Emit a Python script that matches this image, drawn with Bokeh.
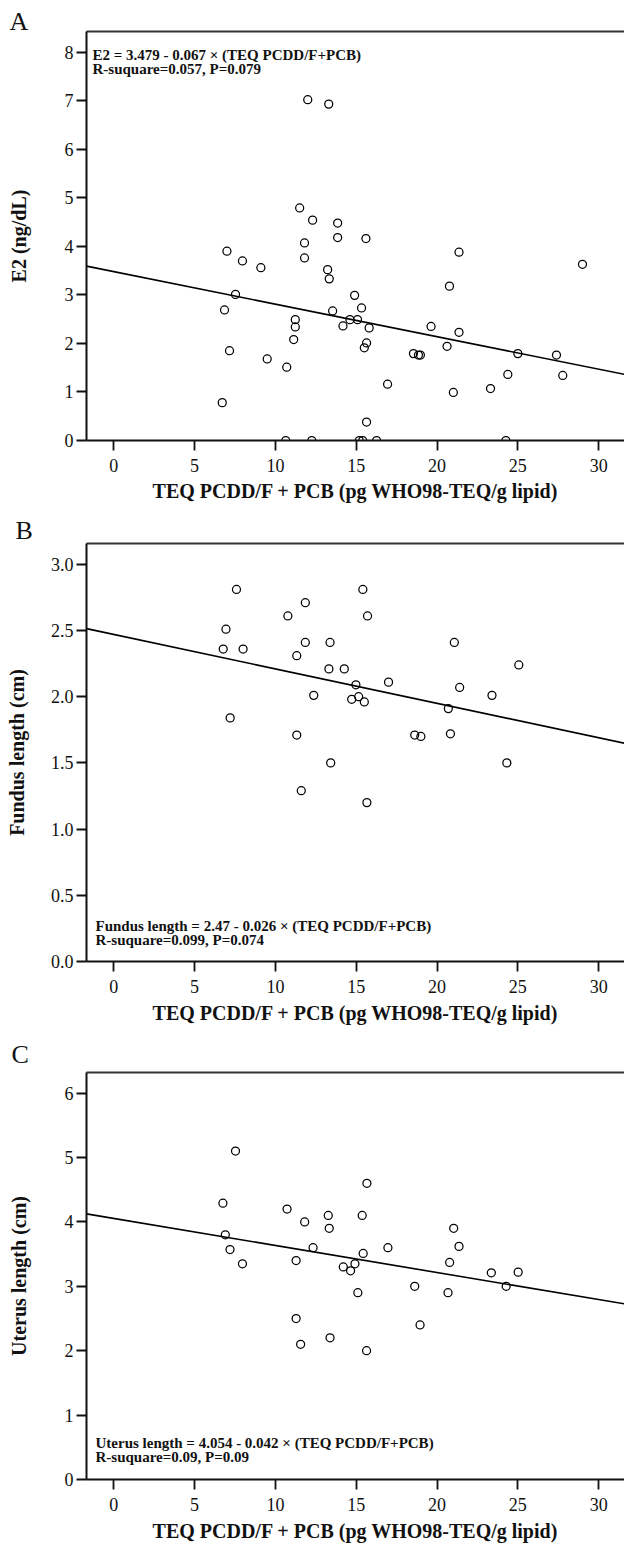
from bokeh.plotting import figure
from bokeh.models import Range1d, FixedTicker, LinearAxis, Label, PrintfTickFormatter
from bokeh.layouts import column
from bokeh.embed import file_html
from bokeh.resources import INLINE

FONT = "Liberation Serif"
X_TICKS = [0, 5, 10, 15, 20, 25, 30]
X_LABEL = "TEQ PCDD/F + PCB (pg WHO98-TEQ/g lipid)"

# Panel A: E2
a_x = [6.71, 6.85, 7.0, 7.16, 7.53, 7.96, 9.1, 9.49, 10.64, 10.7, 11.13, 11.23, 11.23, 11.5, 11.8,
       11.8, 12.0, 12.25, 12.3, 13.23, 13.3, 13.33, 13.54, 13.85, 13.85, 14.18, 14.61, 14.9, 15.08,
       15.19, 15.33, 15.4, 15.5, 15.6, 15.64, 15.64, 15.8, 16.26, 16.94, 18.54, 18.85, 18.97, 19.63,
       20.62, 20.77, 21.01, 21.36, 21.36, 23.31, 24.26, 24.38, 25.0, 27.39, 27.78, 29.0]
a_y = [0.78, 2.69, 3.90, 1.85, 3.01, 3.70, 3.56, 1.68, 0, 1.51, 2.08, 2.49, 2.34, 4.79, 4.07,
       3.76, 7.02, 0, 4.54, 3.52, 6.93, 3.33, 2.67, 4.48, 4.18, 2.36, 2.49, 2.99, 2.49,
       0, 2.73, 0, 1.91, 4.16, 2.01, 0.38, 2.32, 0, 1.16, 1.79, 1.76, 1.76, 2.35,
       1.94, 3.18, 0.99, 3.88, 2.23, 1.07, 0, 1.36, 1.79, 1.76, 1.34, 3.63]
a_ticks = [0, 1, 2, 3, 4, 5, 6, 7, 8]
a_fit = (3.479, -0.067)
a_eq = ["E2 = 3.479 - 0.067 × (TEQ PCDD/F+PCB)", "R-suquare=0.057, P=0.079"]

# Panel B: Fundus length
b_x = [6.77, 6.94, 7.2, 7.59, 8.0, 10.77, 11.32, 11.32, 11.6, 11.85, 11.85, 12.37, 13.31, 13.38,
       13.42, 14.26, 14.72, 14.98, 15.15, 15.41, 15.5, 15.66, 15.7, 17.0, 18.62, 19.0, 20.7, 20.83,
       21.07, 21.4, 23.4, 24.32, 25.06]
b_y = [2.36, 2.51, 1.84, 2.81, 2.36, 2.61, 2.31, 1.71, 1.29, 2.71, 2.41, 2.01, 2.21, 2.41,
       1.50, 2.21, 1.98, 2.09, 2.00, 2.81, 1.96, 1.20, 2.61, 2.11, 1.71, 1.70, 1.91, 1.72,
       2.41, 2.07, 2.01, 1.50, 2.24]
b_ticks = [0.0, 0.5, 1.0, 1.5, 2.0, 2.5, 3.0]
b_fit = (2.47, -0.026)
b_eq = ["Fundus length = 2.47 - 0.026 × (TEQ PCDD/F+PCB)", "R-suquare=0.099, P=0.074"]

# Panel C: Uterus length
c_x = [6.75, 6.9, 7.19, 7.53, 7.96, 10.72, 11.28, 11.28, 11.56, 11.81, 12.33, 13.27, 13.33, 13.38,
       14.2, 14.65, 14.92, 15.1, 15.37, 15.43, 15.64, 15.66, 16.96, 18.62, 18.95, 20.68, 20.78,
       21.03, 21.36, 23.36, 24.28, 25.02]
c_y = [4.29, 3.80, 3.57, 5.10, 3.35, 4.20, 3.40, 2.50, 2.10, 4.00, 3.60, 4.10, 3.90, 2.20,
       3.30, 3.24, 3.35, 2.90, 4.10, 3.51, 2.00, 4.60, 3.60, 3.00, 2.40, 2.90, 3.37,
       3.90, 3.62, 3.21, 3.00, 3.22]
c_ticks = [0, 1, 2, 3, 4, 5, 6]
c_fit = (4.054, -0.042)
c_eq = ["Uterus length = 4.054 - 0.042 × (TEQ PCDD/F+PCB)", "R-suquare=0.09, P=0.09"]

X0, X1 = -1.69, 31.6


def panel(letter, xs, ys, ylabel, yticks, yfmt, ymax, fit, eq, height, bt, bb,
          ylab_standoff, letter_offset, letter_standoff, eq_xy, s1, s2):
    p = figure(width=624, height=height, x_range=Range1d(X0, X1), y_range=Range1d(0, ymax),
               output_backend="svg", toolbar_location=None,
               min_border_left=86, min_border_right=0, min_border_top=bt, min_border_bottom=bb)
    p.outline_line_color = None
    p.xgrid.visible = False
    p.ygrid.visible = False
    p.background_fill_color = "white"
    p.border_fill_color = "white"

    p.title.text = letter
    p.title.align = "left"
    p.title.offset = letter_offset
    p.title.standoff = letter_standoff
    p.title.text_font = FONT
    p.title.text_font_size = "26px"
    p.title.text_font_style = "normal"
    p.title.text_color = "#111111"

    for ax in (p.xaxis[0], p.yaxis[0]):
        ax.axis_line_width = 2
        ax.axis_line_color = "#111111"
        ax.major_tick_line_width = 1.8
        ax.major_tick_line_color = "#111111"
        ax.major_tick_out = 10
        ax.major_tick_in = 0
        ax.minor_tick_line_color = None
        ax.major_label_text_font = FONT
        ax.major_label_text_font_size = "18px"
        ax.major_label_text_color = "#111111"
        ax.axis_label_text_font = FONT
        ax.axis_label_text_font_size = "20px"
        ax.axis_label_text_font_style = "bold"
        ax.axis_label_text_color = "#111111"

    p.xaxis.ticker = FixedTicker(ticks=X_TICKS)
    p.xaxis.axis_label = X_LABEL
    p.xaxis.major_label_standoff = s1
    p.xaxis.axis_label_standoff = s2
    p.yaxis.ticker = FixedTicker(ticks=yticks)
    if yfmt:
        p.yaxis.formatter = PrintfTickFormatter(format=yfmt)
    p.yaxis.axis_label = ylabel
    p.yaxis.major_label_standoff = 3
    p.yaxis.axis_label_standoff = ylab_standoff

    top = LinearAxis(ticker=FixedTicker(ticks=[]), axis_line_width=2, axis_line_color="#333333",
                     major_tick_out=0, major_tick_in=0, major_label_standoff=0,
                     minor_tick_line_color=None, major_tick_line_color=None)
    p.add_layout(top, "above")

    b0, b1 = fit
    p.line([X0, X1], [b0 + b1 * X0, b0 + b1 * X1], line_color="black", line_width=1.6)
    p.scatter(xs, ys, marker="circle", size=8, fill_color=None, line_color="black",
              line_width=1.25)

    for i, t in enumerate(eq):
        p.add_layout(Label(x=eq_xy[0], y=eq_xy[1] - 14.5 * i, x_units="screen", y_units="screen",
                           text=t, text_font=FONT, text_font_size="15px", text_font_style="bold",
                           text_baseline="middle", text_align="left", text_color="#111111"))
    return p


pA = panel("A", a_x, a_y, "E2 (ng/dL)", a_ticks, None, 8.426, a_fit, a_eq,
           height=508, bt=31, bb=68, ylab_standoff=32,
           letter_offset=-77, letter_standoff=-9, eq_xy=(6, 386), s1=8, s2=5)
pB = panel("B", b_x, b_y, "Fundus length (cm)", b_ticks, "%.1f", 3.157, b_fit, b_eq,
           height=526, bt=35, bb=73, ylab_standoff=20,
           letter_offset=-71, letter_standoff=-2, eq_xy=(9, 36), s1=8, s2=6)
pC = panel("C", c_x, c_y, "Uterus length (cm)", c_ticks, None, 6.32, c_fit, c_eq,
           height=510, bt=37, bb=64, ylab_standoff=32,
           letter_offset=-75, letter_standoff=7, eq_xy=(9, 37), s1=8, s2=6)

layout = column(pA, pB, pC, spacing=0)
open("out.html", "w").write(file_html(layout, INLINE))
